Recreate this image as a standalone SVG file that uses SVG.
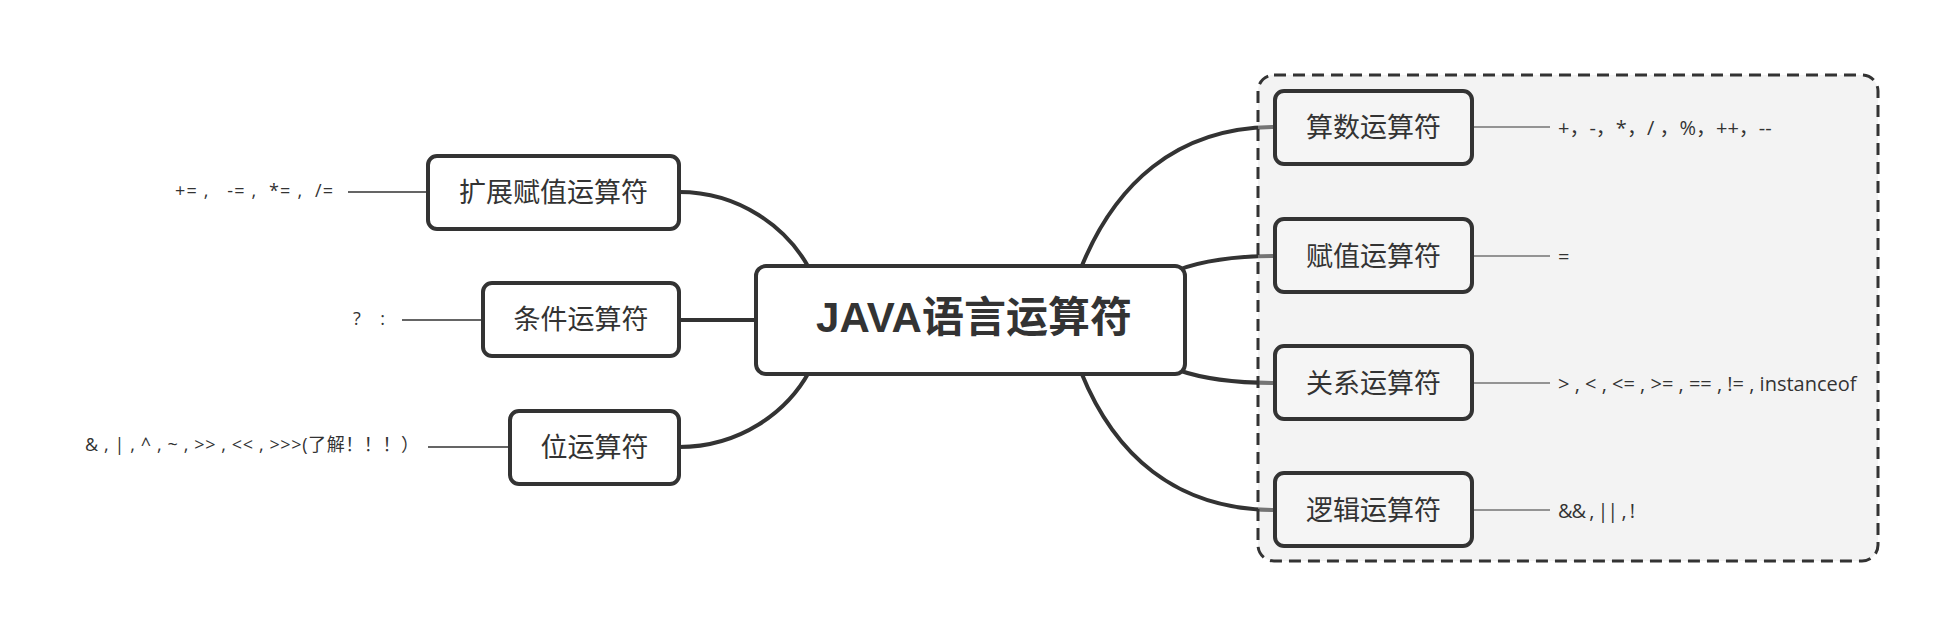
<svg xmlns="http://www.w3.org/2000/svg" width="1954" height="637" viewBox="0 0 1954 637">
<style>
.node rect{stroke:#333;stroke-width:4}
.lnode rect{fill:#fff}
.rnode rect{fill:#f5f5f5}
.ntext{font-family:"Noto Sans CJK SC","Liberation Sans",sans-serif;font-size:27px;fill:#333;text-anchor:middle;dominant-baseline:central}
.main{font-family:"Liberation Sans","Noto Sans CJK SC",sans-serif;font-size:42px;font-weight:bold;fill:#333;text-anchor:middle;dominant-baseline:central}
.leaf{font-family:"Open Sans","Noto Sans CJK SC",sans-serif;fill:#333;dominant-baseline:central;white-space:pre}
.ls{font-size:18px}
.rs{font-size:20px}
.conn{fill:none;stroke:#333;stroke-width:4}
.thin{fill:none;stroke:#333;stroke-width:1.6}
</style>
<rect width="1954" height="637" fill="#fff"/>
<g id="connectors">
<path class="conn" d="M679,192 C740,192 787,228 809,268"/>
<path class="conn" d="M679,320 L758,320"/>
<path class="conn" d="M679,447 C740,447 787,412 809,372"/>
<path class="conn" d="M1081,268 C1114,186 1175,127 1275,127"/>
<path class="conn" d="M1178,270 Q1215,256 1275,256"/>
<path class="conn" d="M1178,370 Q1215,383 1275,383"/>
<path class="conn" d="M1081,372 C1114,454 1175,510 1275,510"/>
<path class="thin" d="M348,192 H428 M402,320 H483 M428,447 H510"/>
<path class="thin" d="M1472,127 H1550 M1472,256 H1550 M1472,383 H1550 M1472,510 H1550"/>
</g>
<g id="group-box">
<rect x="1258" y="75" width="620" height="486" rx="16" fill="#e0e0e0" fill-opacity="0.38" stroke="#333" stroke-width="3" stroke-dasharray="12 7"/>
</g>
<g id="node-root" class="node lnode">
<rect x="756" y="266" width="429" height="108" rx="10"/>
<text class="main" x="974" y="317">JAVA语言运算符</text>
</g>
<g id="node-kuozhan" class="node lnode">
<rect x="428" y="156" width="251" height="73" rx="9"/>
<text class="ntext" x="553.5" y="190">扩展赋值运算符</text>
<text class="leaf ls" x="175" y="190" textLength="158">+= ,   -= ,  *= ,  /=</text>
</g>
<g id="node-tiaojian" class="node lnode">
<rect x="483" y="283" width="196" height="73" rx="9"/>
<text class="ntext" x="581" y="317.5">条件运算符</text>
<text class="leaf ls" x="353" y="318" textLength="32">? :</text>
</g>
<g id="node-wei" class="node lnode">
<rect x="510" y="411" width="169" height="73" rx="9"/>
<text class="ntext" x="594.5" y="445">位运算符</text>
<text class="leaf ls" x="85" y="444" textLength="334">&amp; , | , ^ , ~ , &gt;&gt; , &lt;&lt; , &gt;&gt;&gt;(了解！！！）</text>
</g>
<g id="node-suanshu" class="node rnode">
<rect x="1275" y="91" width="197" height="73" rx="9"/>
<text class="ntext" x="1373.5" y="125.5">算数运算符</text>
<text class="leaf rs" x="1558" y="127">+，-，*，/ ，%，++，--</text>
</g>
<g id="node-fuzhi" class="node rnode">
<rect x="1275" y="219" width="197" height="73" rx="9"/>
<text class="ntext" x="1373.5" y="254">赋值运算符</text>
<text class="leaf rs" x="1558" y="256">=</text>
</g>
<g id="node-guanxi" class="node rnode">
<rect x="1275" y="346" width="197" height="73" rx="9"/>
<text class="ntext" x="1373.5" y="381">关系运算符</text>
<text class="leaf rs" x="1558" y="383">&gt; , &lt; , &lt;= , &gt;= , == , != , instanceof</text>
</g>
<g id="node-luoji" class="node rnode">
<rect x="1275" y="473" width="197" height="73" rx="9"/>
<text class="ntext" x="1373.5" y="508">逻辑运算符</text>
<text class="leaf rs" x="1558" y="510" textLength="77">&amp;&amp; , || , !</text>
</g>
</svg>
